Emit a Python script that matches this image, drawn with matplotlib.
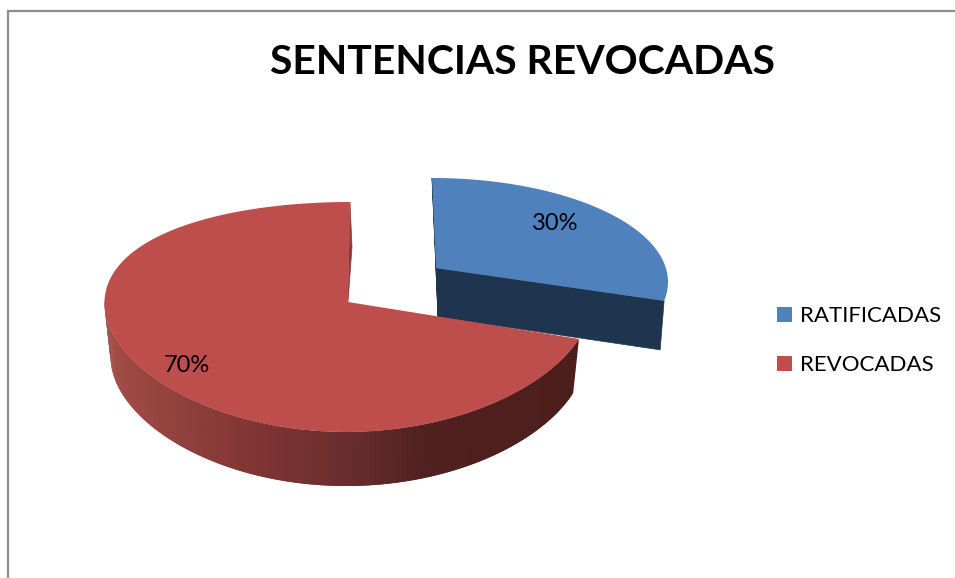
import numpy as np
import matplotlib
matplotlib.use("Agg")
import matplotlib.pyplot as plt
from matplotlib.patches import Patch, Polygon

# data
labels = ["RATIFICADAS", "REVOCADAS"]
values = [30, 70]
title = "SENTENCIAS REVOCADAS"

# colours
top_colors = ["#4f81bd", "#bd4e4c"]
blue_side = "#1f344f"
frame_color = "#8e8e8e"

# pie geometry, in pixels of the picture
# tip, centre of the rim ellipse, radii, perspective, lean, warp of the angle, slab depth
blue_geo = dict(tx=436, ty=268, cx=432, cy=282, rx=236, ry=104, k=0, lean=0, warp=0.93,
                depth=49, shrink=0.974, shift=2)
red_geo = dict(tx=348, ty=302, cx=348, cy=302, rx=243.5, ry=115, k=15, lean=2, warp=1.0,
               depth=54, shrink=0.975, shift=0)


def rim(theta, g):
    # theta in degrees, clockwise from the top of the pie
    t = np.radians(theta * g["warp"])
    u = -np.cos(t)
    x = g["cx"] + g["rx"] * np.sin(t) - g["lean"] * u
    y = g["cy"] + g["ry"] * u + g["k"] * u ** 2
    return x, y


def base(x, y, g):
    # same point, moved down to the bottom of the slab
    return g["tx"] + g["shift"] + (x - g["tx"]) * g["shrink"], y + g["depth"]


fig = plt.figure(figsize=(9.55, 5.78), dpi=100)
ax = fig.add_axes([0, 0, 1, 1])
ax.set_xlim(0, 955)
ax.set_ylim(578, 0)
ax.axis("off")
plt.rcParams["font.family"] = ["Lato", "DejaVu Sans"]

# outer frame, only top and left are visible
ax.plot([7.5, 7.5, 955], [578, 10.5, 10.5], color=frame_color, lw=1.6, solid_joinstyle="miter")

angles = np.array(values) / sum(values) * 360

# blue slice: 0 -> its share, clockwise
th = np.linspace(0, angles[0], 120)
bx, by = rim(th, blue_geo)
tip = (blue_geo["tx"], blue_geo["ty"])
tip_b = base(tip[0], tip[1], blue_geo)
# inner walls
ex, ey = base(bx[-1], by[-1], blue_geo)
ax.add_patch(Polygon([tip, (bx[-1], by[-1]), (ex, ey), tip_b], color=blue_side, lw=0.5))
ax.add_patch(Polygon([(bx[0], by[0]), tip, tip_b], color=blue_side, lw=0.5))
ax.add_patch(Polygon(np.r_[[tip], np.c_[bx, by]], color=top_colors[0], lw=0))

# red slice: starts where the blue one ends, around to the top
th = np.linspace(angles[0], 360, 400)
rx_, ry_ = rim(th, red_geo)
tip = (red_geo["tx"], red_geo["ty"])

# outer wall, shaded from left to right
grad_x = [105, 240, 345, 430, 580]
grad_r = [163, 130, 105, 80, 76]
grad_g = [76, 55, 45, 32, 30]
grad_b = [72, 52, 45, 30, 28]
for i in range(len(th) - 2):
    if th[i] > 270:
        continue
    x0, y0 = rx_[i], ry_[i]
    # each strip reaches under the next one so no seams show
    x1, y1 = rx_[i + 2], ry_[i + 2]
    xm = rx_[i + 1]
    col = (np.interp(xm, grad_x, grad_r) / 255,
           np.interp(xm, grad_x, grad_g) / 255,
           np.interp(xm, grad_x, grad_b) / 255)
    ax.add_patch(Polygon([(x0, y0), (x1, y1), base(x1, y1, red_geo), base(x0, y0, red_geo)],
                         facecolor=col, edgecolor="none", lw=0))

# thin wall next to the gap
ax.add_patch(Polygon([(rx_[-1], ry_[-1]), (rx_[-1] + 2, ry_[-1] + 45), tip], color="#8a3b38", lw=0.5))
ax.add_patch(Polygon(np.r_[[tip], np.c_[rx_, ry_]], color=top_colors[1], lw=0))

# percent labels
label_x = [555, 187]
label_y = [223, 365]
for v, x, y in zip(values, label_x, label_y):
    ax.text(x, y, f"{v}%", fontsize=17, color="black", ha="center", va="center")

ax.text(522.5, 62, title, fontsize=29.4, fontweight="bold", color="black", ha="center", va="center")

handles = [Patch(facecolor=c, edgecolor="none", label=l) for c, l in zip(top_colors, labels)]
ax.legend(handles=handles, loc="upper left", bbox_to_anchor=(777, 306), bbox_transform=ax.transData,
          frameon=False, fontsize=16, handlelength=0.68, handleheight=0.68, handletextpad=0.36,
          labelspacing=1.32, borderpad=0, borderaxespad=0)

fig.savefig("out.png", dpi=100)
